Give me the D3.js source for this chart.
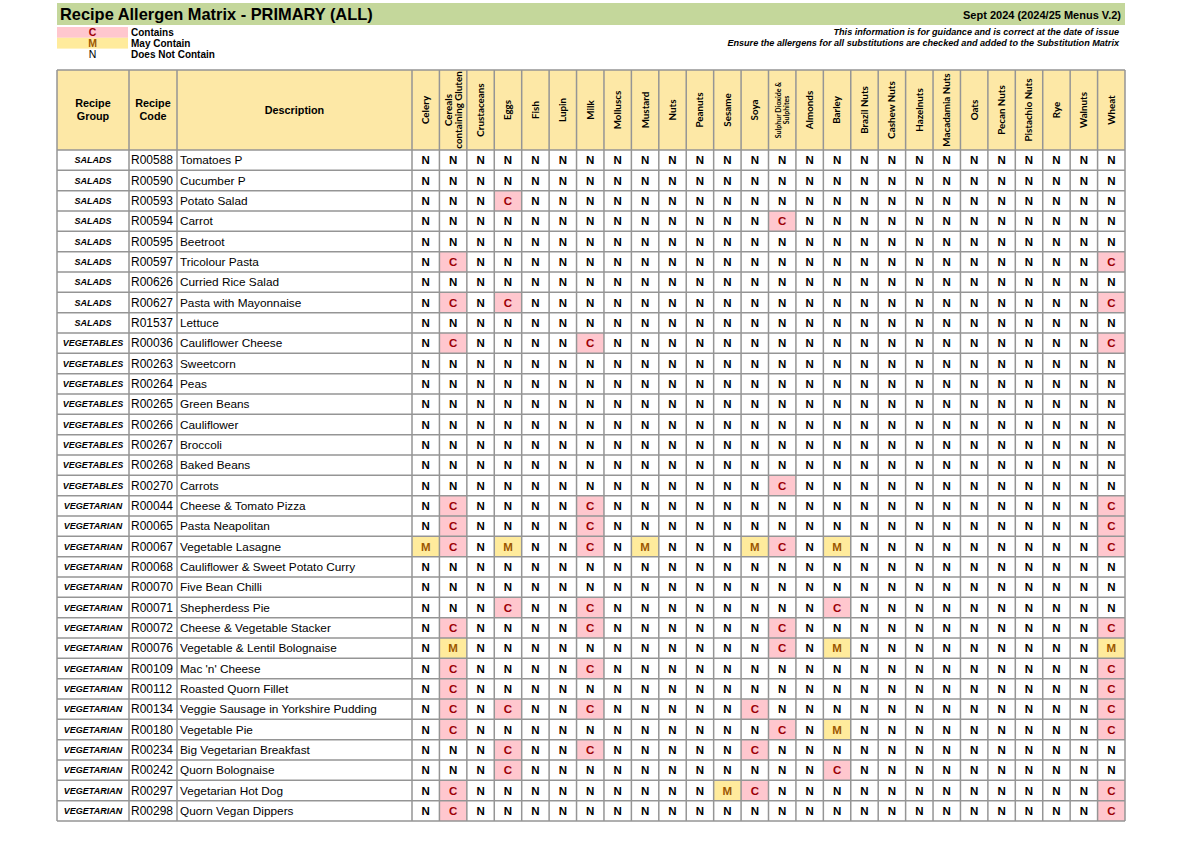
<!DOCTYPE html>
<html>
<head>
<meta charset="utf-8">
<script src="https://cdn.jsdelivr.net/npm/d3@7"></script>
<style>
  body { margin: 0; background: #fff; }
  text { font-family: "Liberation Sans", Arial, sans-serif; }
</style>
</head>
<body>
<svg id="chart" width="1200" height="849"></svg>
<script>
"use strict";

// allergen columns, in sheet order
const allergens = [
    "Celery", "Cereals containing Gluten", "Crustaceans", "Eggs", "Fish", "Lupin",
    "Milk", "Molluscs", "Mustard", "Nuts", "Peanuts", "Sesame", "Soya",
    "Sulphur Dioxide & Sulphites", "Almonds", "Barley", "Brazil Nuts", "Cashew Nuts",
    "Hazelnuts", "Macadamia Nuts", "Oats", "Pecan Nuts", "Pistachio Nuts", "Rye",
    "Walnuts", "Wheat"
];

const groups = [
    "SALADS", "SALADS", "SALADS", "SALADS", "SALADS", "SALADS", "SALADS", "SALADS", "SALADS",
    "VEGETABLES", "VEGETABLES", "VEGETABLES", "VEGETABLES", "VEGETABLES", "VEGETABLES",
    "VEGETABLES", "VEGETABLES",
    "VEGETARIAN", "VEGETARIAN", "VEGETARIAN", "VEGETARIAN", "VEGETARIAN", "VEGETARIAN",
    "VEGETARIAN", "VEGETARIAN", "VEGETARIAN", "VEGETARIAN", "VEGETARIAN", "VEGETARIAN",
    "VEGETARIAN", "VEGETARIAN", "VEGETARIAN", "VEGETARIAN"
];

const codes = [
    "R00588", "R00590", "R00593", "R00594", "R00595", "R00597", "R00626", "R00627", "R01537",
    "R00036", "R00263", "R00264", "R00265", "R00266", "R00267", "R00268", "R00270",
    "R00044", "R00065", "R00067", "R00068", "R00070", "R00071", "R00072", "R00076",
    "R00109", "R00112", "R00134", "R00180", "R00234", "R00242", "R00297", "R00298"
];

const descriptions = [
    "Tomatoes P", "Cucumber P", "Potato Salad", "Carrot", "Beetroot", "Tricolour Pasta",
    "Curried Rice Salad", "Pasta with Mayonnaise", "Lettuce",
    "Cauliflower Cheese", "Sweetcorn", "Peas", "Green Beans", "Cauliflower", "Broccoli",
    "Baked Beans", "Carrots",
    "Cheese & Tomato Pizza", "Pasta Neapolitan", "Vegetable Lasagne",
    "Cauliflower & Sweet Potato Curry", "Five Bean Chilli", "Shepherdess Pie",
    "Cheese & Vegetable Stacker", "Vegetable & Lentil Bolognaise", "Mac 'n' Cheese",
    "Roasted Quorn Fillet", "Veggie Sausage in Yorkshire Pudding", "Vegetable Pie",
    "Big Vegetarian Breakfast", "Quorn Bolognaise", "Vegetarian Hot Dog", "Quorn Vegan Dippers"
];

// one letter per allergen column: C contains, M may contain, N does not contain
const matrix = [
    "NNNNNNNNNNNNNNNNNNNNNNNNNN",
    "NNNNNNNNNNNNNNNNNNNNNNNNNN",
    "NNNCNNNNNNNNNNNNNNNNNNNNNN",
    "NNNNNNNNNNNNNCNNNNNNNNNNNN",
    "NNNNNNNNNNNNNNNNNNNNNNNNNN",
    "NCNNNNNNNNNNNNNNNNNNNNNNNC",
    "NNNNNNNNNNNNNNNNNNNNNNNNNN",
    "NCNCNNNNNNNNNNNNNNNNNNNNNC",
    "NNNNNNNNNNNNNNNNNNNNNNNNNN",
    "NCNNNNCNNNNNNNNNNNNNNNNNNC",
    "NNNNNNNNNNNNNNNNNNNNNNNNNN",
    "NNNNNNNNNNNNNNNNNNNNNNNNNN",
    "NNNNNNNNNNNNNNNNNNNNNNNNNN",
    "NNNNNNNNNNNNNNNNNNNNNNNNNN",
    "NNNNNNNNNNNNNNNNNNNNNNNNNN",
    "NNNNNNNNNNNNNNNNNNNNNNNNNN",
    "NNNNNNNNNNNNNCNNNNNNNNNNNN",
    "NCNNNNCNNNNNNNNNNNNNNNNNNC",
    "NCNNNNCNNNNNNNNNNNNNNNNNNC",
    "MCNMNNCNMNNNMCNMNNNNNNNNNC",
    "NNNNNNNNNNNNNNNNNNNNNNNNNN",
    "NNNNNNNNNNNNNNNNNNNNNNNNNN",
    "NNNCNNCNNNNNNNNCNNNNNNNNNN",
    "NCNNNNCNNNNNNCNNNNNNNNNNNC",
    "NMNNNNNNNNNNNCNMNNNNNNNNNM",
    "NCNNNNCNNNNNNNNNNNNNNNNNNC",
    "NCNNNNNNNNNNNNNNNNNNNNNNNC",
    "NCNCNNCNNNNNCNNNNNNNNNNNNC",
    "NCNNNNNNNNNNNCNMNNNNNNNNNC",
    "NNNCNNCNNNNNCNNNNNNNNNNNNN",
    "NNNCNNNNNNNNNNNCNNNNNNNNNN",
    "NCNNNNNNNNNMCNNNNNNNNNNNNC",
    "NCNNNNNNNNNNNNNNNNNNNNNNNC"
];

const legendCodes = ["C", "M", "N"];
const legendLabels = ["Contains", "May Contain", "Does Not Contain"];

const title = "Recipe Allergen Matrix - PRIMARY (ALL)";
const version = "Sept 2024 (2024/25 Menus V.2)";
const notes = [
    "This information is for guidance and is correct at the date of issue",
    "Ensure the allergens for all substitutions are checked and added to the Substitution Matrix"
];

// header labels that wrap onto two lines
const labelBreaks = {
    "Cereals containing Gluten": ["Cereals", "containing Gluten"],
    "Sulphur Dioxide & Sulphites": ["Sulphur Dioxide &", "Sulphites"]
};

const fills = {C: "#ffc7ce", M: "#ffeb9c", N: "none"},
    inks = {C: "#9c0006", M: "#9c5700", N: "#000"};

function makeMatrix(svg_id) {
    const svg = d3.select(svg_id),
        left = 57, right = 1125,
        headTop = 70, headBottom = 150, bottom = 821,
        fixedCols = [
            {key: "group", label: ["Recipe", "Group"], x0: 57, x1: 129},
            {key: "code", label: ["Recipe", "Code"], x0: 129, x1: 177},
            {key: "desc", label: ["Description"], x0: 177, x1: 412}
        ],
        x = d3.scaleBand().domain(allergens).range([412, right]),
        y = d3.scaleBand().domain(d3.range(codes.length)).range([headBottom, bottom]),
        gridColor = "#959595";

    // title band
    svg.append("rect")
        .attr("x", left).attr("y", 3)
        .attr("width", right - left).attr("height", 22)
        .attr("fill", "#c4d79b");
    svg.append("text")
        .attr("x", 60).attr("y", 20)
        .attr("font-size", 16.4).attr("font-weight", "bold")
        .text(title);
    svg.append("text")
        .attr("x", 1121).attr("y", 18.5)
        .attr("text-anchor", "end")
        .attr("font-size", 11).attr("font-weight", "bold")
        .text(version);

    // legend
    const legend = svg.append("g").selectAll("g")
        .data(legendCodes)
        .enter().append("g")
        .attr("transform", (d, i) => `translate(0,${27 + i * 10.8})`);
    legend.append("rect")
        .attr("x", left).attr("width", 71).attr("height", 10.8)
        .attr("fill", d => fills[d]);
    legend.append("text")
        .attr("x", 92.5).attr("y", 9)
        .attr("text-anchor", "middle")
        .attr("font-size", 10.5).attr("font-weight", d => d === "N" ? "normal" : "bold")
        .attr("fill", d => inks[d])
        .text(d => d);
    legend.append("text")
        .attr("x", 131).attr("y", 9)
        .attr("font-size", 10).attr("font-weight", "bold")
        .text((d, i) => legendLabels[i]);

    svg.append("g").selectAll("text")
        .data(notes)
        .enter().append("text")
        .attr("x", 1119).attr("y", (d, i) => 35 + i * 11)
        .attr("text-anchor", "end")
        .attr("font-size", 9.1).attr("font-weight", "bold").attr("font-style", "italic")
        .text(d => d);

    // header
    svg.append("rect")
        .attr("x", left).attr("y", headTop)
        .attr("width", right - left).attr("height", headBottom - headTop)
        .attr("fill", "#fde8a6");

    const headMid = (headTop + headBottom) / 2;
    fixedCols.forEach(c => {
        svg.append("g").selectAll("text")
            .data(c.label)
            .enter().append("text")
            .attr("x", (c.x0 + c.x1) / 2)
            .attr("y", (d, i) => headMid + (i - (c.label.length - 1) / 2) * 13)
            .attr("dy", "0.35em")
            .attr("text-anchor", "middle")
            .attr("font-size", 10.8).attr("font-weight", "bold")
            .text(d => d);
    });

    const heads = svg.append("g").selectAll("g")
        .data(allergens)
        .enter().append("g")
        .attr("transform", d => `translate(${x(d) + x.bandwidth() / 2},${headMid}) rotate(-90)`);
    heads.each(function(d) {
        const lines = labelBreaks[d] || [d],
            small = d.startsWith("Sulphur"),
            lh = small ? 8 : 10;
        d3.select(this).selectAll("text")
            .data(lines)
            .enter().append("text")
            .attr("y", (t, i) => (i - (lines.length - 1) / 2) * lh)
            .attr("dy", "0.35em")
            .attr("text-anchor", "middle")
            .style("font-family", "Lato, 'Open Sans', sans-serif")
            .attr("font-size", small ? 7 : 9.8).attr("font-weight", "bold")
            .text(t => t);
    });

    // body cells
    const rows = svg.append("g").selectAll("g")
        .data(codes)
        .enter().append("g")
        .attr("transform", (d, i) => `translate(0,${y(i)})`);
    const cy = y.bandwidth() / 2;

    rows.selectAll("rect")
        .data((d, i) => allergens.map((a, j) => ({a, v: matrix[i][j]})).filter(c => c.v !== "N"))
        .enter().append("rect")
        .attr("x", c => x(c.a)).attr("width", x.bandwidth())
        .attr("height", y.bandwidth())
        .attr("fill", c => fills[c.v]);

    rows.append("text")
        .attr("x", 93).attr("y", cy).attr("dy", "0.35em")
        .attr("text-anchor", "middle")
        .attr("font-size", 9).attr("font-weight", "bold").attr("font-style", "italic")
        .text((d, i) => groups[i]);
    rows.append("text")
        .attr("x", 131).attr("y", cy).attr("dy", "0.35em")
        .attr("font-size", 12)
        .text(d => d);
    rows.append("text")
        .attr("x", 180).attr("y", cy).attr("dy", "0.35em")
        .attr("font-size", 11.8)
        .text((d, i) => descriptions[i]);

    rows.selectAll("text.cell")
        .data((d, i) => allergens.map((a, j) => ({a, v: matrix[i][j]})))
        .enter().append("text")
        .attr("class", "cell")
        .attr("x", c => x(c.a) + x.bandwidth() / 2)
        .attr("y", cy).attr("dy", "0.36em")
        .attr("text-anchor", "middle")
        .attr("font-size", 11.5).attr("font-weight", "bold")
        .attr("fill", c => inks[c.v])
        .text(c => c.v);

    // grid
    const grid = svg.append("g")
        .attr("stroke", gridColor).attr("stroke-width", 1.5).attr("fill", "none");
    const vx = [left, 129, 177].concat(allergens.map(a => x(a)), [right]);
    grid.selectAll("line.v")
        .data(vx)
        .enter().append("line")
        .attr("x1", d => d).attr("x2", d => d)
        .attr("y1", headTop).attr("y2", bottom);
    const hy = [headTop].concat(d3.range(codes.length).map(i => y(i)), [bottom]);
    grid.selectAll("line.h")
        .data(hy)
        .enter().append("line")
        .attr("x1", left).attr("x2", right)
        .attr("y1", d => d).attr("y2", d => d);
}

makeMatrix("#chart");
</script>
</body>
</html>
